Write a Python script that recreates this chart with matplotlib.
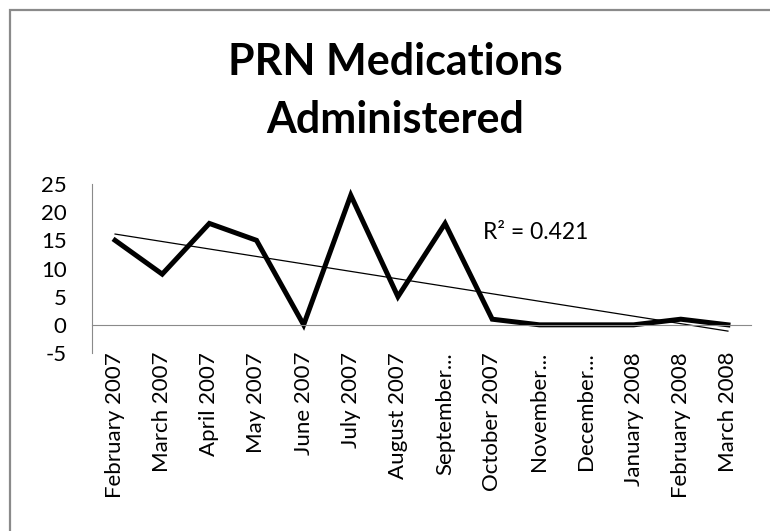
import numpy as np
import matplotlib
matplotlib.use("Agg")
import matplotlib.pyplot as plt

plt.rcParams['font.family'] = ['Lato', 'DejaVu Sans']
plt.rcParams['axes.unicode_minus'] = False

# Monthly counts of PRN medications
months = ["February 2007", "March 2007", "April 2007", "May 2007", "June 2007",
          "July 2007", "August 2007", "September...", "October 2007", "November...",
          "December...", "January 2008", "February 2008", "March 2008"]
counts = [15, 9, 18, 15, 0, 23, 5, 18, 1, 0, 0, 0, 1, 0]

x = np.arange(len(months))
y = np.array(counts, dtype=float)

# linear trendline and its R squared
slope, intercept = np.polyfit(x, y, 1)
fit = slope * x + intercept
r2 = 1 - np.sum((y - fit) ** 2) / np.sum((y - y.mean()) ** 2)

fig = plt.figure(figsize=(7.7, 5.31), dpi=100)

# chart frame
frame = plt.Rectangle((10 / 770, -0.1), 1.2, 1 - 10 / 531 + 0.1, transform=fig.transFigure,
                      fill=False, edgecolor='#8a8a8a', linewidth=1.6)
fig.patches.append(frame)

fig.text(395 / 770, 1 - 91 / 531, "PRN Medications\nAdministered", ha='center', va='center',
         fontsize=31, fontweight='bold', linespacing=1.55)

ax = fig.add_axes([91.5 / 770, 1 - 353 / 531, 660 / 770, 169 / 531])
# x axis sits on the zero line
ax.spines['bottom'].set_position(('data', 0))

ax.plot(x, y, color='black', linewidth=3.6, solid_joinstyle='miter')
ax.plot(x, fit, color='black', linewidth=0.9)

ax.text(7.8, 16.4, "R\u00b2 = %.3f" % (np.floor(r2 * 1000) / 1000), fontsize=16.5, va='center', ha='left')

ax.set_xlim(-0.5, len(months) - 0.5)
ax.set_ylim(-5, 25)
ax.set_yticks(range(-5, 30, 5))
ax.set_xticks(x)
ax.set_xticklabels(months, rotation=90, va='top', ha='center')

for s in ['top', 'right']:
    ax.spines[s].set_visible(False)
ax.spines['bottom'].set_color('#8a8a8a')
ax.spines['left'].set_color('#8a8a8a')
ax.tick_params(axis='both', length=0, labelsize=16)
ax.tick_params(axis='y', pad=18)
ax.tick_params(axis='x', pad=19.5)

fig.savefig("out.png", dpi=100)
